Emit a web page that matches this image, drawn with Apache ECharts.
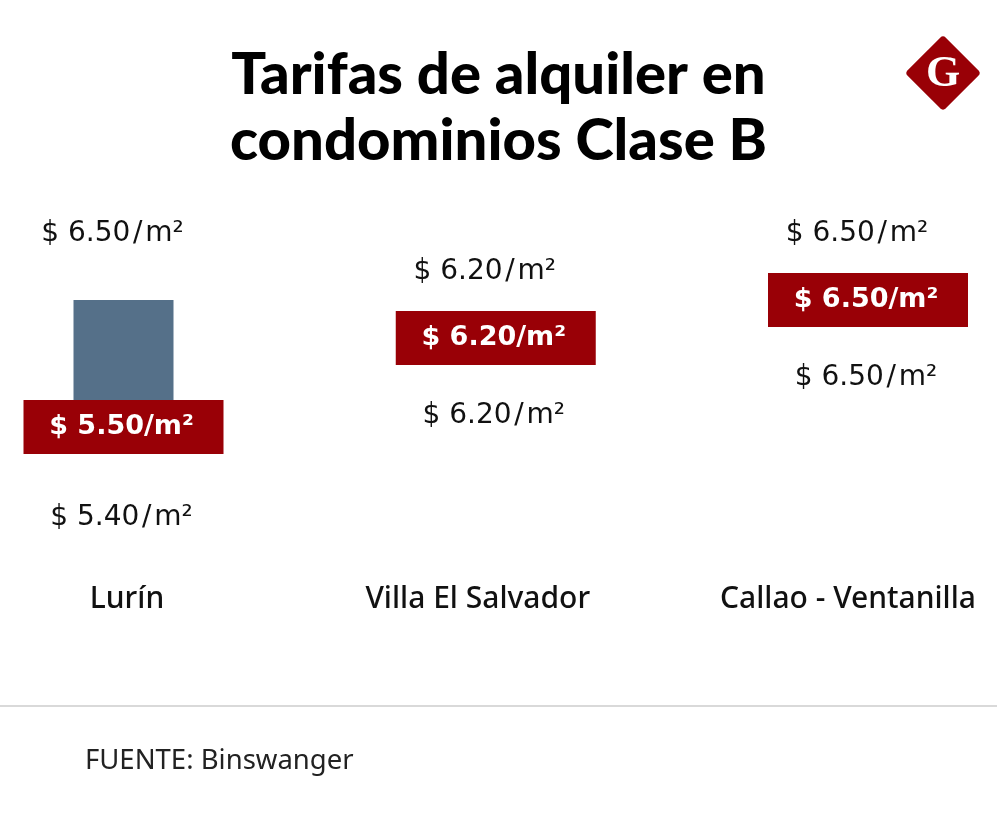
<!DOCTYPE html>
<html lang="es">
<head>
<meta charset="UTF-8">
<title>Tarifas de alquiler en condominios Clase B</title>
<script src="https://cdn.jsdelivr.net/npm/echarts@6/dist/echarts.min.js"></script>
<style>
  html, body { margin: 0; padding: 0; background: #fff; }
  #main { width: 997px; height: 837px; }
</style>
</head>
<body>
<div id="main"></div>
<script type="text/javascript">
// datos (US$ por m2)
var distritos = ['Lurín', 'Villa El Salvador', 'Callao - Ventanilla'];
var tarifaMin = [5.40, 6.20, 6.50];
var tarifaMax = [6.50, 6.20, 6.50];
var tarifaProm = [5.50, 6.20, 6.50];

function fmt(v) { return '$ ' + v.toFixed(2) + '\u200a/\u200am²'; }

var myChart = echarts.init(document.getElementById('main'));

// desplazamiento horizontal de cada etiqueta de distrito
var pad = [[0, 0, 0, 7], [0, 36, 0, 0], [0, 40, 0, 0]];
var rich = {};
pad.forEach(function (p, i) {
    rich['c' + i] = { fontFamily: 'Noto Sans', fontSize: 30, fontWeight: 500, color: '#111', padding: p };
});

var rangos = distritos.map(function (d, i) { return [i, tarifaMin[i], tarifaMax[i]]; });

myChart.setOption({
    animation: false,
    grid: { left: 123.5, right: 129, top: 236.5, bottom: 346.5 },
    xAxis: {
        type: 'category',
        data: distritos,
        boundaryGap: false,
        axisLine: { show: false },
        axisTick: { show: false },
        splitLine: { show: false },
        axisLabel: {
            margin: 94,
            formatter: function (v, i) { return '{c' + i + '|' + v + '}'; },
            rich: rich
        }
    },
    yAxis: {
        type: 'value',
        min: 5,
        max: 7,
        show: false
    },
    series: [
        {
            // rango entre mínimo y máximo
            type: 'custom',
            renderItem: function (params, api) {
                var top = api.coord([api.value(0), api.value(2)]);
                var bot = api.coord([api.value(0), api.value(1)]);
                return {
                    type: 'rect',
                    shape: { x: top[0] - 50, y: top[1], width: 100, height: bot[1] - top[1] },
                    style: { fill: '#557089' }
                };
            },
            encode: { x: 0, y: [1, 2] },
            data: rangos,
            z: 1
        },
        {
            // máximo
            type: 'scatter',
            symbolSize: 0,
            itemStyle: { opacity: 1 },
            data: tarifaMax,
            label: {
                show: true,
                position: 'inside',
                offset: [-11, -66],
                formatter: function (p) { return fmt(p.value); },
                fontFamily: 'DejaVu Sans',
                fontSize: 28,
                color: '#111'
            },
            z: 3
        },
        {
            // mínimo
            type: 'scatter',
            symbolSize: 0,
            itemStyle: { opacity: 1 },
            data: tarifaMin,
            label: {
                show: true,
                position: 'inside',
                offset: [-2, 78],
                formatter: function (p) { return fmt(p.value); },
                fontFamily: 'DejaVu Sans',
                fontSize: 28,
                color: '#111'
            },
            z: 3
        },
        {
            // promedio
            type: 'scatter',
            symbol: 'rect',
            symbolSize: [200, 54],
            itemStyle: { color: '#990006', opacity: 1 },
            data: tarifaProm,
            label: {
                show: true,
                position: 'inside',
                offset: [-2, 0],
                formatter: function (p) { return '$ ' + p.value.toFixed(2) + '/m²'; },
                fontFamily: 'DejaVu Sans',
                fontSize: 27,
                fontWeight: 'bold',
                color: '#fff'
            },
            z: 4
        }
    ],
    graphic: [
        {
            type: 'text',
            left: 'center',
            top: 42,
            style: {
                text: 'Tarifas de alquiler en\ncondominios Clase B',
                fontFamily: 'Lato',
                fontWeight: 900,
                fontSize: 58,
                lineHeight: 66,
                textAlign: 'center',
                fill: '#000'
            }
        },
        {
            type: 'rect',
            x: 943, y: 73,
            rotation: Math.PI / 4,
            shape: { x: -27, y: -27, width: 54, height: 54, r: 4 },
            style: { fill: '#990006' }
        },
        {
            type: 'text',
            x: 943, y: 75,
            style: {
                text: 'G',
                fontFamily: 'Liberation Serif',
                fontWeight: 'bold',
                fontSize: 44,
                fill: '#fff',
                textAlign: 'center',
                textVerticalAlign: 'middle'
            }
        },
        {
            type: 'line',
            shape: { x1: 0, y1: 706, x2: 997, y2: 706 },
            style: { stroke: '#cccccc', lineWidth: 1.5 }
        },
        {
            type: 'text',
            x: 85, y: 761,
            style: {
                text: 'FUENTE: Binswanger',
                fontFamily: 'Noto Sans',
                fontSize: 27.5,
                fill: '#222',
                textVerticalAlign: 'middle'
            }
        }
    ]
});
</script>
</body>
</html>
